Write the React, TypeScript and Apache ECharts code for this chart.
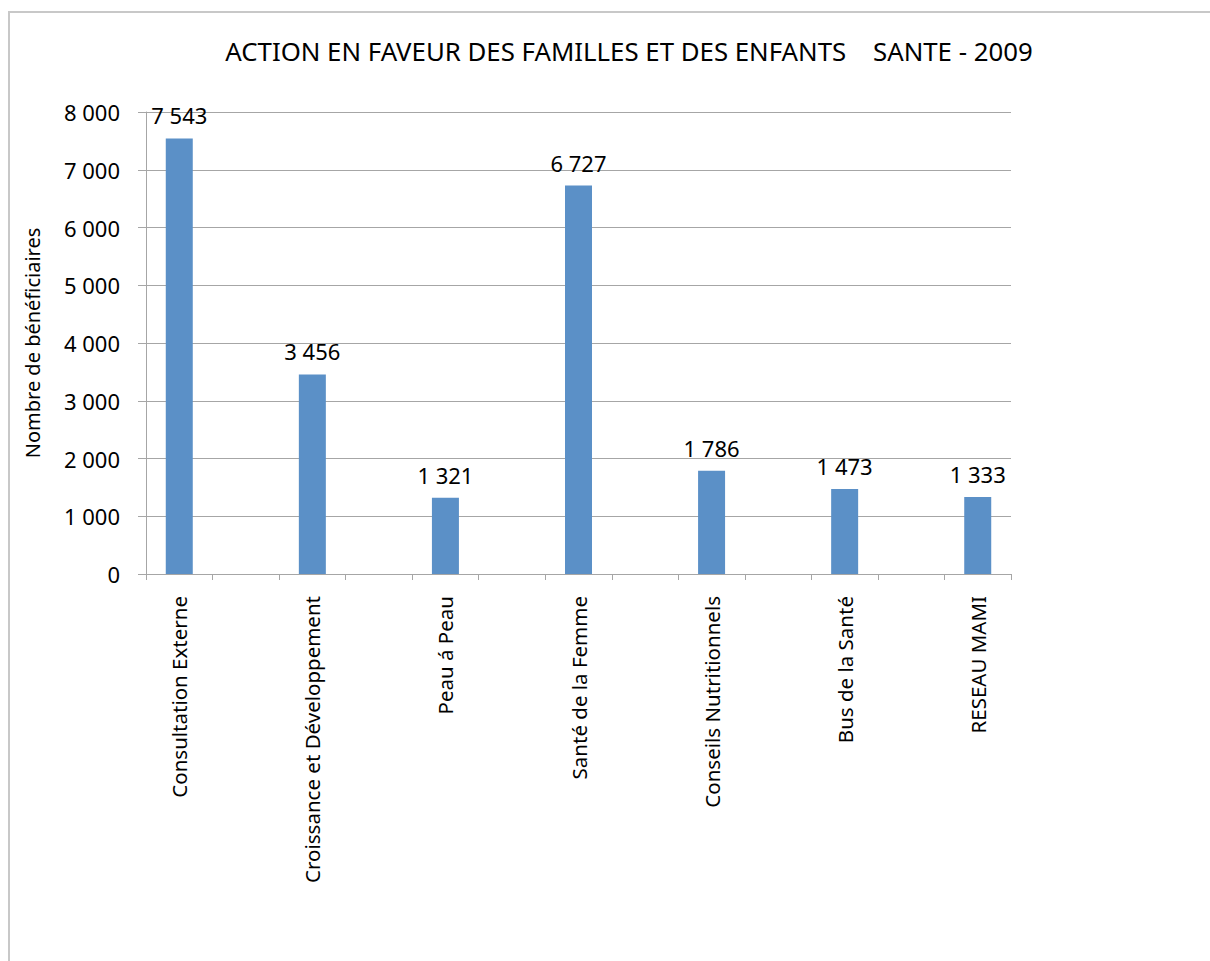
import React, { useEffect, useRef } from "react";
import * as echarts from "echarts";

const TITLE = "ACTION EN FAVEUR DES FAMILLES ET DES ENFANTS    SANTE - 2009";
const Y_AXIS_NAME = "Nombre de bénéficiaires";
const categories = [
  "Consultation Externe",
  "Croissance et Développement",
  "Peau á Peau",
  "Santé de la Femme",
  "Conseils Nutritionnels",
  "Bus de la Santé",
  "RESEAU MAMI",
];
const values = [7543, 3456, 1321, 6727, 1786, 1473, 1333];
const yTicks = [0, 1000, 2000, 3000, 4000, 5000, 6000, 7000, 8000];

const fmt = (v: number) => String(v).replace(/\B(?=(\d{3})+(?!\d))/g, " ");

export default function App() {
  const ref = useRef<HTMLDivElement>(null);
  useEffect(() => {
    if (!ref.current) return;
    const chart = echarts.init(ref.current, null, { renderer: "svg" });
    // Interleave empty gap categories between the real ones
    const cats: string[] = [];
    const data: (number | null)[] = [];
    categories.forEach((c, i) => {
      if (i > 0) {
        cats.push("");
        data.push(null);
      }
      cats.push(c);
      data.push(values[i]);
    });
    const font = "'Noto Sans', sans-serif";
    chart.setOption({
      animation: false,
      backgroundColor: "#ffffff",
      textStyle: { fontFamily: font },
      title: {
        text: TITLE,
        left: 624,
        textAlign: "center",
        top: 33,
        textStyle: { fontSize: 25.8, fontWeight: "normal", color: "#000", fontFamily: font },
      },
      graphic: [
        {
          type: "rect",
          shape: { x: 9, y: 12, width: 1400, height: 1200 },
          style: { fill: "none", stroke: "#c8c8c8", lineWidth: 2 },
          silent: true,
        },
      ],
      grid: { left: 146, right: 199, top: 112, bottom: 387, containLabel: false },
      xAxis: {
        type: "category",
        data: cats,
        boundaryGap: true,
        axisLine: { show: true, lineStyle: { color: "#a6a6a6", width: 1 } },
        axisTick: { show: true, interval: 0, length: 6, lineStyle: { color: "#a6a6a6" } },
        axisLabel: {
          interval: 0,
          rotate: 90,
          margin: 22,
          fontSize: 20.5,
          color: "#000",
          fontFamily: font,
        },
      },
      yAxis: {
        type: "value",
        min: yTicks[0],
        max: yTicks[yTicks.length - 1],
        interval: 1000,
        name: Y_AXIS_NAME,
        nameLocation: "middle",
        nameRotate: 90,
        nameGap: 104,
        nameTextStyle: { fontSize: 20, color: "#000", fontFamily: font },
        axisLine: { show: true, lineStyle: { color: "#a6a6a6", width: 1 } },
        axisTick: { show: true, length: 8, lineStyle: { color: "#a6a6a6" } },
        axisLabel: {
          margin: 26,
          fontSize: 22,
          color: "#000",
          fontFamily: font,
          formatter: (v: number) => fmt(v),
        },
        splitLine: { show: true, lineStyle: { color: "#a6a6a6", width: 1 } },
      },
      series: [
        {
          type: "bar",
          data,
          barWidth: 27,
          itemStyle: { color: "#5b90c7" },
          label: {
            show: true,
            position: "top",
            distance: 12,
            fontSize: 22,
            color: "#000",
            fontFamily: font,
            formatter: (p: any) => fmt(p.value),
          },
        },
      ],
    });
    return () => chart.dispose();
  }, []);
  return (
    <div
      ref={ref}
      style={{ position: "absolute", left: 0, top: 0, width: 1210, height: 961 }}
    />
  );
}
